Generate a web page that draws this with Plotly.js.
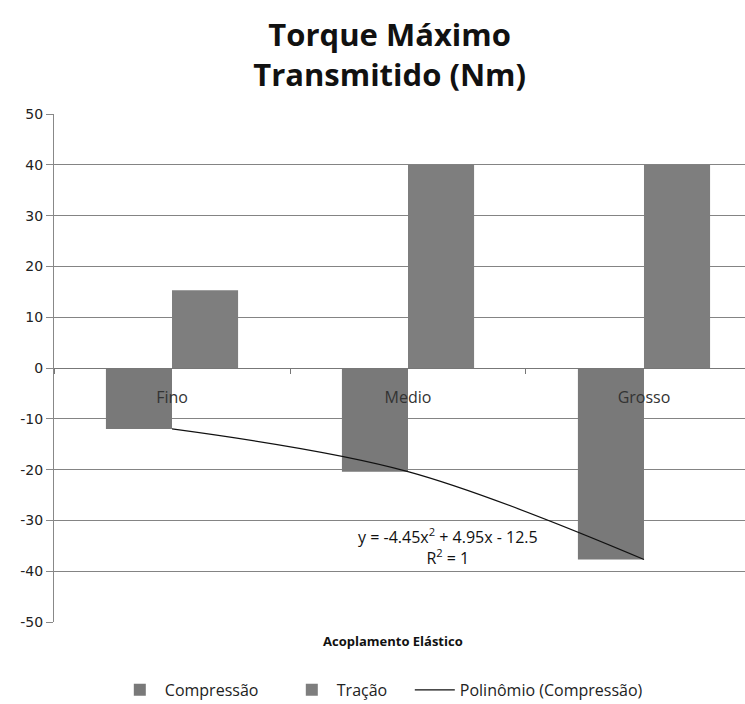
<!DOCTYPE html>
<html>
<head>
<meta charset="utf-8">
<script src="https://cdn.plot.ly/plotly-3.0.1.min.js"></script>
<style>
  html, body { margin: 0; padding: 0; background: #ffffff; }
  #chart { width: 745px; height: 704px; }
</style>
</head>
<body>
<div id="chart"></div>
<script>
// Torque máximo transmitido por tipo de acoplamento elástico (Nm)
const categorias = ['Fino', 'Medio', 'Grosso'];
const compressao = [-12, -20.4, -37.7];
const tracao = [15.3, 40, 40];
const yTicks = [-50, -40, -30, -20, -10, 0, 10, 20, 30, 40, 50];
const equacao = 'y = -4.45x<sup>2</sup> + 4.95x - 12.5<br>R<sup>2</sup> = 1';

const textFont = '"Open Sans", "Noto Sans", sans-serif';

const traces = [
  {
    type: 'bar',
    name: 'Compressão',
    x: categorias,
    y: compressao,
    legendwidth: 117,
    marker: { color: '#797979', line: { width: 0 } }
  },
  {
    type: 'bar',
    name: 'Tração',
    x: categorias,
    y: tracao,
    legendwidth: 68,
    marker: { color: '#7e7e7e', line: { width: 0 } }
  },
  {
    // polynomial trend through the compression values
    type: 'scatter',
    mode: 'lines',
    name: 'Polinômio (Compressão)',
    x: categorias,
    y: compressao,
    line: { color: '#111111', width: 1.2, shape: 'spline', smoothing: 1 },
    hoverinfo: 'skip'
  }
];

const layout = {
  width: 745,
  height: 704,
  paper_bgcolor: '#ffffff',
  plot_bgcolor: '#ffffff',
  margin: { l: 54, r: 0, t: 114, b: 82 },
  title: {
    text: '<b>Torque Máximo<br>Transmitido (Nm)</b>',
    font: { family: '"Open Sans", sans-serif', size: 31, color: '#111111' },
    x: 0.523,
    xanchor: 'center',
    yref: 'container',
    y: 0.935,
    yanchor: 'top'
  },
  barmode: 'group',
  bargap: 0.44,
  bargroupgap: 0,
  showlegend: true,
  legend: {
    orientation: 'h',
    xref: 'paper',
    x: 0.088,
    xanchor: 'left',
    yref: 'container',
    y: 0.02,
    yanchor: 'middle',
    font: { family: textFont, size: 16, color: '#222222' },
    itemwidth: 40,
    traceorder: 'normal'
  },
  xaxis: {
    type: 'category',
    range: [-0.5, 2.428],
    anchor: 'free',
    position: 0.5,
    showline: true,
    linecolor: '#777777',
    linewidth: 1,
    ticks: 'outside',
    tickson: 'boundaries',
    ticklen: 5,
    tickcolor: '#777777',
    showgrid: false,
    zeroline: false,
    tickfont: { family: textFont, size: 16, color: '#333333' },
    ticklabelstandoff: 15
  },
  yaxis: {
    range: [-50, 50],
    tickvals: yTicks,
    ticktext: yTicks.map(String),
    showline: true,
    linecolor: '#888888',
    linewidth: 1,
    ticks: 'outside',
    ticklen: 7,
    tickcolor: '#888888',
    showgrid: true,
    gridcolor: '#848484',
    gridwidth: 1,
    zeroline: false,
    tickfont: { family: '"DejaVu Sans", Verdana, sans-serif', size: 14, color: '#222222' }
  },
  annotations: [
    {
      text: '<b>Acoplamento Elástico</b>',
      xref: 'paper', yref: 'paper',
      x: 0.49, y: -0.015,
      xanchor: 'center', yanchor: 'top',
      showarrow: false,
      font: { family: textFont, size: 13, color: '#111111' }
    },
    {
      text: equacao,
      xref: 'x', yref: 'y',
      x: 1.17, y: -35.2,
      xanchor: 'center', yanchor: 'middle',
      showarrow: false,
      align: 'center',
      font: { family: textFont, size: 16, color: '#111111' }
    }
  ]
};

Plotly.newPlot('chart', traces, layout, { displayModeBar: false, staticPlot: true });
</script>
</body>
</html>
